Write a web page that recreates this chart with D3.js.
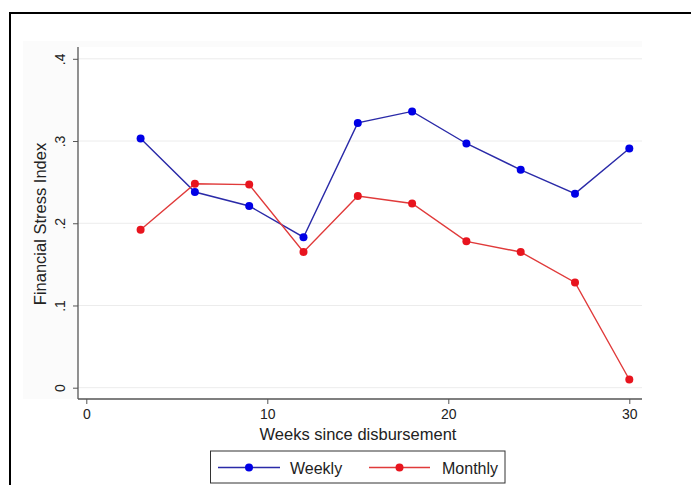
<!DOCTYPE html>
<html><head><meta charset="utf-8">
<script src="https://cdn.jsdelivr.net/npm/d3@7"></script>
<style>body{margin:0;background:#fff}svg{display:block}text{font-family:"Liberation Sans",Arial,sans-serif}</style>
</head><body><svg id="c" width="691" height="485"></svg>
<script>
const weeks = [3,6,9,12,15,18,21,24,27,30];
const weekly = [0.303,0.238,0.221,0.183,0.322,0.336,0.297,0.265,0.236,0.291];
const monthly = [0.192,0.248,0.247,0.165,0.233,0.224,0.178,0.165,0.128,0.010];
const xTicks = [0,10,20,30];
const yTicks = [0,0.1,0.2,0.3,0.4];
const yTickLabels = ["0",".1",".2",".3",".4"];
const seriesNames = ["Weekly","Monthly"];

const svg = d3.select("#c");
const x = d3.scaleLinear().domain([0,30]).range([86.3,629.3]);
const y = d3.scaleLinear().domain([0,0.4]).range([387.7,58.8]);

// outer border
svg.append("rect").attr("x",10).attr("y",13).attr("width",700).attr("height",500)
  .attr("fill","none").attr("stroke","#000").attr("stroke-width",2);
// faint plot region
svg.append("rect").attr("x",23).attr("y",41).attr("width",619).attr("height",358).attr("fill","#fbfbfb");
svg.append("rect").attr("x",78).attr("y",47).attr("width",564).attr("height",352).attr("fill","#fff");

// grid
svg.append("g").selectAll("line").data(yTicks).join("line")
  .attr("x1",78).attr("x2",642).attr("y1",d=>y(d)).attr("y2",d=>y(d))
  .attr("stroke","#ececec").attr("stroke-width",1);

// axes
const xAxis = svg.append("g").attr("transform","translate(0,399)")
  .call(d3.axisBottom(x).tickValues(xTicks).tickSize(5).tickPadding(5).tickFormat(d3.format("d")));
xAxis.select(".domain").remove();
svg.append("line").attr("x1",78).attr("x2",642).attr("y1",399).attr("y2",399).attr("stroke","#555").attr("stroke-width",1.3);
xAxis.selectAll(".tick line").attr("stroke","#555");
xAxis.selectAll("text").attr("font-size",14).attr("fill","#222");

const yAxis = svg.append("g").attr("transform","translate(78,0)")
  .call(d3.axisLeft(y).tickValues(yTicks).tickSize(5).tickFormat((d,i)=>yTickLabels[i]));
yAxis.select(".domain").remove();
svg.append("line").attr("x1",78).attr("x2",78).attr("y1",47).attr("y2",399).attr("stroke","#555").attr("stroke-width",1.3);
yAxis.selectAll(".tick line").attr("stroke","#555");
yAxis.selectAll("text").attr("font-size",14).attr("fill","#222")
  .attr("transform","rotate(-90)").attr("x",0).attr("y",-13).attr("dy","0").attr("text-anchor","middle");

svg.append("text").attr("transform","translate(46,224) rotate(-90)").attr("text-anchor","middle")
  .attr("font-size",16.5).attr("fill","#222").text("Financial Stress Index");
svg.append("text").attr("x",358).attr("y",440).attr("text-anchor","middle")
  .attr("font-size",16.5).attr("fill","#222").text("Weeks since disbursement");

const series = [
  {name:seriesNames[0], vals:weekly, line:"#2a2aa8", dot:"#0000e6"},
  {name:seriesNames[1], vals:monthly, line:"#e03a3a", dot:"#e8141e"}
];
const line = d3.line().x((d,i)=>x(weeks[i])).y(d=>y(d));
series.forEach(s=>{
  svg.append("path").attr("d",line(s.vals)).attr("fill","none").attr("stroke",s.line).attr("stroke-width",1.4);
  svg.append("g").selectAll("circle").data(s.vals).join("circle")
    .attr("cx",(d,i)=>x(weeks[i])).attr("cy",d=>y(d)).attr("r",4).attr("fill",s.dot);
});

// legend
svg.append("rect").attr("x",210.5).attr("y",451).attr("width",294.5).attr("height",32)
  .attr("fill","#fff").attr("stroke","#333").attr("stroke-width",1);
const lg = [{x1:218,x2:280,tx:290},{x1:369,x2:430,tx:442}];
series.forEach((s,i)=>{
  const L = lg[i];
  svg.append("line").attr("x1",L.x1).attr("x2",L.x2).attr("y1",467.5).attr("y2",467.5).attr("stroke",s.line).attr("stroke-width",1.4);
  svg.append("circle").attr("cx",(L.x1+L.x2)/2).attr("cy",467.5).attr("r",4).attr("fill",s.dot);
  svg.append("text").attr("x",L.tx).attr("y",473.5).attr("font-size",16).attr("fill","#222").text(s.name);
});
</script></body></html>
